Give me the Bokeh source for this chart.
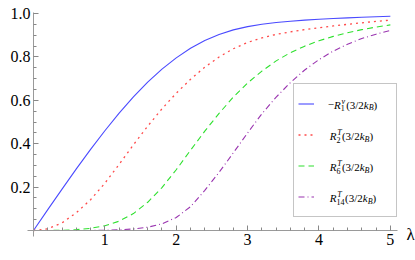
from bokeh.plotting import figure
from bokeh.models import (Range1d, FixedTicker, Legend, LegendItem, Label,
                          LinearAxis, CustomJSTickFormatter)
from bokeh.embed import file_html
from bokeh.resources import INLINE

# ---- data ----
lam = [0.0, 0.2, 0.4, 0.6, 0.8, 1.0, 1.2, 1.4, 1.6, 1.8, 2.0, 2.2, 2.4, 2.6,
       2.8, 3.0, 3.2, 3.4, 3.6, 3.8, 4.0, 4.2, 4.4, 4.6, 4.8, 5.0]
r1 = [0.0, 0.096, 0.191, 0.284, 0.374, 0.46, 0.541, 0.616, 0.684, 0.744,
      0.796, 0.84, 0.876, 0.904, 0.925, 0.94, 0.951, 0.959, 0.965, 0.97,
      0.974, 0.9775, 0.9805, 0.983, 0.9855, 0.988]
r2 = [0.0, 0.008, 0.035, 0.082, 0.142, 0.218, 0.305, 0.395, 0.481, 0.561,
      0.633, 0.697, 0.753, 0.8, 0.838, 0.867, 0.888, 0.904, 0.916, 0.926,
      0.935, 0.943, 0.9505, 0.9575, 0.964, 0.97]
r6 = [0.0, 0.0, 0.001, 0.004, 0.01, 0.022, 0.043, 0.078, 0.13, 0.198, 0.28,
      0.37, 0.458, 0.54, 0.615, 0.68, 0.735, 0.782, 0.82, 0.85, 0.875, 0.895,
      0.912, 0.926, 0.938, 0.948]
r14 = [0.0, 0.0, 0.0, 0.0, 0.0002, 0.001, 0.003, 0.007, 0.015, 0.031, 0.06,
       0.11, 0.185, 0.268, 0.358, 0.45, 0.538, 0.615, 0.682, 0.74, 0.788,
       0.827, 0.859, 0.885, 0.905, 0.922]
x_ticks = [1, 2, 3, 4, 5]
y_ticks = [0.2, 0.4, 0.6, 0.8, 1.0]
subs = ["1", "2", "6", "14"]
sups = ["v", "T", "T", "T"]

FONT = "Liberation Serif"
W, H = 415, 260
# pixel position of the data origin and pixels per unit
X0, Y0, PXX, PXY = 33.0, 230.0, 71.37, 216.9


def dx(px):
    return (px - X0) / PXX


def dy(py):
    return (Y0 - py) / PXY


p = figure(width=W, height=H, output_backend="svg", toolbar_location=None,
           title=None, x_axis_location=None, y_axis_location=None,
           x_range=Range1d(dx(0), dx(W)), y_range=Range1d(dy(H), dy(0)),
           min_border=0, min_border_left=0, min_border_right=0,
           min_border_top=0, min_border_bottom=0)
p.outline_line_color = None
p.grid.visible = False
p.background_fill_color = "white"
p.border_fill_color = "white"

l1 = p.line(lam, r1, line_color="#4a4aff", line_width=1.1)
l2 = p.line(lam, r2, line_color="#ff4a4a", line_width=1.3, line_dash="2 4")
l3 = p.line(lam, r6, line_color="#2ee02e", line_width=1.1, line_dash="6 4")
l4 = p.line(lam, r14, line_color="#9a35b0", line_width=1.1, line_dash="6 3 1 3")

minor_x = [round(0.2 * i, 2) for i in range(1, 26) if i % 5]
minor_y = [round(0.05 * i, 2) for i in range(1, 21) if i % 4]
blank = CustomJSTickFormatter(code="return ''")
xaxis = LinearAxis(fixed_location=0, ticker=FixedTicker(ticks=x_ticks, minor_ticks=minor_x),
                   bounds=(-0.084, 5.1), formatter=blank)
yaxis = LinearAxis(fixed_location=0, ticker=FixedTicker(ticks=y_ticks, minor_ticks=minor_y),
                   bounds=(-0.028, 1.005), formatter=blank)
for ax in (xaxis, yaxis):
    ax.axis_line_color = "#9a9a9a"
    ax.axis_line_width = 1
    ax.major_tick_line_color = "#888888"
    ax.minor_tick_line_color = "#888888"
    ax.major_tick_in = 5
    ax.major_tick_out = 0
    ax.minor_tick_in = 3
    ax.minor_tick_out = 0
p.add_layout(xaxis, "below")
p.add_layout(yaxis, "left")

# tick labels (real text, positioned through the data scales)
for t in x_ticks:
    p.add_layout(Label(x=t, y=0, y_offset=-3, text=str(t), text_font=FONT,
                       text_font_size="16px", text_align="center",
                       text_baseline="top", text_color="black"))
for t in y_ticks:
    p.add_layout(Label(x=0, y=t, x_offset=-3, text=f"{t:.1f}", text_font=FONT,
                       text_font_size="16px", text_align="right",
                       text_baseline="middle", text_color="black"))
p.add_layout(Label(x=5.1, y=0, x_offset=9, y_offset=-3.5, text="λ",
                   text_font=FONT, text_font_size="17px", text_align="left",
                   text_baseline="middle", text_color="black"))

legend = Legend(items=[LegendItem(label=" ", renderers=[r]) for r in (l1, l2, l3, l4)],
                location=(293, 43), orientation="vertical",
                padding=4, spacing=0, glyph_width=16, glyph_height=31,
                label_standoff=5, label_width=73, label_height=31,
                border_line_color="#8c8c8c", border_line_width=1.3,
                background_fill_alpha=0,
                margin=0, label_text_font_size="11px")
p.add_layout(legend, "center")


def piece(txt, xpx, ypx, size, italic=False):
    p.add_layout(Label(x=dx(xpx), y=dy(ypx), text=txt,
                       text_font=FONT,
                       text_font_style="italic" if italic else "normal",
                       text_font_size=f"{size}px", text_baseline="middle",
                       text_align="left", text_color="black"))


def row(x0, yc, minus, sub, sup):
    x = x0
    if minus:
        piece("\u2212", x, yc, 11)
        x += 0.564 * 11
    piece("R", x, yc, 11, True)
    x += 0.611 * 11
    piece(sup, x + 0.8, yc - 3.5, 8, True)
    piece(sub, x, yc + 3.5, 8)
    x += max(0.5 * 8 * len(sub), 0.5 * 8 + 0.8) + 0.6
    piece("(3/2", x, yc, 11)
    x += (0.333 + 0.5 + 0.278 + 0.5) * 11
    piece("k", x, yc, 11, True)
    x += 0.444 * 11
    piece("B", x, yc + 3, 8, True)
    x += 0.611 * 8
    piece(")", x, yc, 11)


row_y = [104, 135.5, 166.5, 197.5]
for i, s in enumerate(subs):
    row(327.3 if i == 0 else 329.3, row_y[i], i == 0, s, sups[i])

open("out.html", "w").write(file_html(p, INLINE))
